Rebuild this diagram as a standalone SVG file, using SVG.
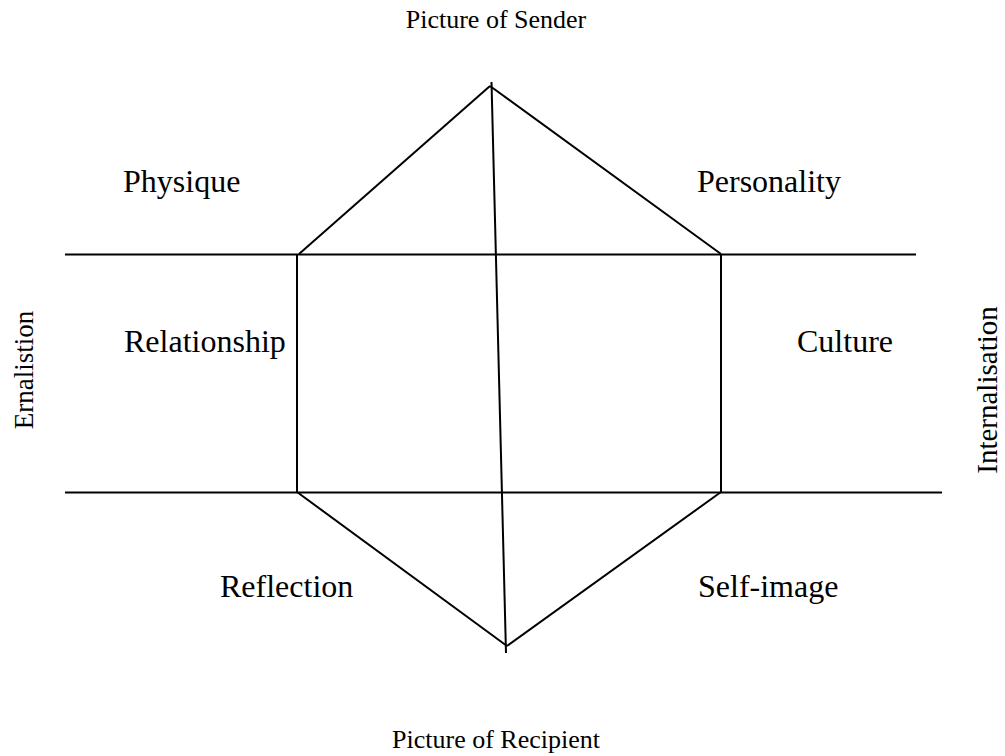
<svg xmlns="http://www.w3.org/2000/svg" width="1005" height="756" viewBox="0 0 1005 756">
<style>
.ln{stroke:#000;stroke-width:2;fill:none;stroke-linecap:butt}
.t{font-family:"Liberation Serif","Times New Roman",serif;fill:#000}
.big{font-size:32px}
.sm{font-size:26px}
</style>
<rect width="1005" height="756" fill="#fff"/>
<g id="connectors">
<line class="ln" x1="65" y1="254.5" x2="916" y2="254.5"/>
<line class="ln" x1="65" y1="492.5" x2="942" y2="492.5"/>
<line class="ln" x1="297" y1="254" x2="297" y2="493"/>
<line class="ln" x1="721" y1="254" x2="721" y2="493"/>
<line class="ln" x1="299" y1="254" x2="490" y2="86"/>
<line class="ln" x1="490" y1="86" x2="721" y2="254"/>
<line class="ln" x1="297" y1="492" x2="507" y2="646"/>
<line class="ln" x1="507" y1="646" x2="721" y2="492"/>
<line class="ln" x1="491.5" y1="82" x2="506" y2="653"/>
</g>
<g id="sender"><text class="t sm" x="496" y="28" text-anchor="middle">Picture of Sender</text></g>
<g id="recipient"><text class="t sm" x="496" y="748" text-anchor="middle">Picture of Recipient</text></g>
<g id="physique"><text class="t big" x="123" y="192">Physique</text></g>
<g id="personality"><text class="t big" x="697" y="192">Personality</text></g>
<g id="relationship"><text class="t big" x="124" y="352">Relationship</text></g>
<g id="culture"><text class="t big" x="797" y="352">Culture</text></g>
<g id="reflection"><text class="t big" x="220" y="597">Reflection</text></g>
<g id="selfimage"><text class="t big" x="698" y="597">Self-image</text></g>
<g id="ernalistion"><text class="t" font-size="27" text-anchor="middle" transform="translate(33,370) rotate(-90)">Ernalistion</text></g>
<g id="internalisation"><text class="t" font-size="29" text-anchor="middle" transform="translate(997,390) rotate(-90)">Internalisation</text></g>
</svg>
